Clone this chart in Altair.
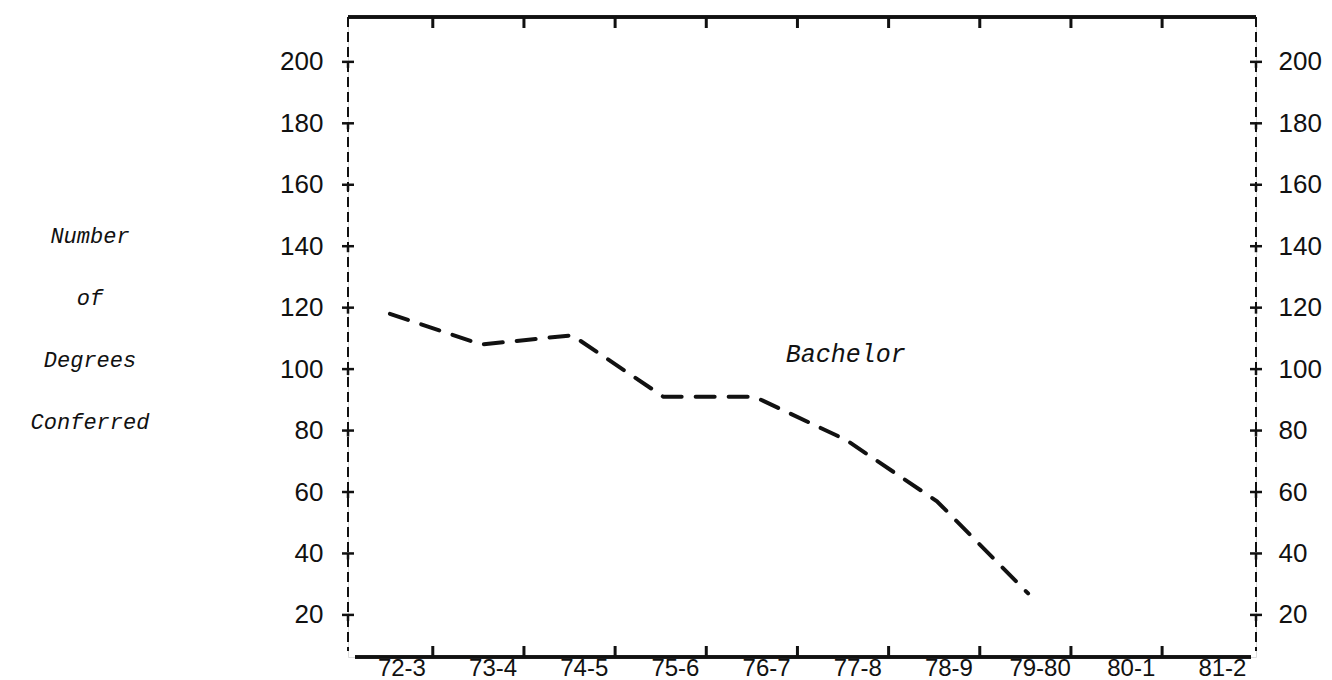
import altair as alt
import pandas as pd

# ---- data ----
years = ["72-3", "73-4", "74-5", "75-6", "76-7", "77-8", "78-9", "79-80", "80-1", "81-2"]
bachelor = [118, 108, 111, 91, 91, 77, 57, 27]
y_ticks = [20, 40, 60, 80, 100, 120, 140, 160, 180, 200]
series_label = "Bachelor"
series_label_year = "77-8"
series_label_value = 105
y_title_lines = ["Number", "of", "Degrees", "Conferred"]

# ---- tables ----
idx = {y: i for i, y in enumerate(years)}
line_df = pd.DataFrame({"x": [idx[y] for y in years[: len(bachelor)]], "v": bachelor})
year_df = pd.DataFrame({"x": list(range(len(years))), "t": years})
ytick_df = pd.DataFrame({"v": y_ticks})
xtick_df = pd.DataFrame({"x": [i + 0.47 for i in range(len(years) - 1)]})
label_df = pd.DataFrame({"x": [idx[series_label_year]], "v": [series_label_value], "t": [series_label]})

W, H = 908, 640
xs = alt.Scale(domain=[-0.46, 9.5], nice=False, zero=False)
ys = alt.Scale(domain=[6.3, 214.6], nice=False, zero=False)
INK = "#111111"
SANS = "Liberation Sans"
MONO = "Liberation Mono"

line = alt.Chart(line_df).mark_line(
    interpolate="linear", strokeDash=[19, 14], strokeWidth=4, strokeCap="round", color=INK
).encode(
    x=alt.X("x:Q", scale=xs, axis=None),
    y=alt.Y("v:Q", scale=ys, axis=alt.Axis(
        values=y_ticks, orient="left", domain=False, ticks=False, grid=False,
        title=None, labelPadding=25, labelFont=SANS, labelFontSize=26, labelColor=INK)),
)

# x category labels under the frame
x_labels = alt.Chart(year_df).mark_text(
    font=SANS, fontSize=24, color=INK, align="center", baseline="top", dx=12
).encode(x=alt.X("x:Q", scale=xs, axis=None), y=alt.value(H), text="t:N")

# right axis (labels only) on the same y scale
right_axis = alt.Chart(ytick_df).mark_rule(strokeWidth=2.5, color=INK).encode(
    x=alt.value(W - 6), x2=alt.value(W + 6),
    y=alt.Y("v:Q", scale=ys, axis=alt.Axis(
        values=y_ticks, orient="right", domain=False, ticks=False, grid=False,
        title=None, labelPadding=22, labelFont=SANS, labelFontSize=26, labelColor=INK)),
)
right_stub = alt.Chart(ytick_df).mark_rule(strokeWidth=2.5, color=INK, y2Offset=6).encode(
    x=alt.value(W), y=alt.Y("v:Q", scale=ys, axis=None), y2="v:Q")

left_cross = alt.Chart(ytick_df).mark_rule(strokeWidth=2.5, color=INK).encode(
    x=alt.value(-6), x2=alt.value(6), y=alt.Y("v:Q", scale=ys, axis=None))
left_stub = alt.Chart(ytick_df).mark_rule(strokeWidth=2.5, color=INK, y2Offset=6).encode(
    x=alt.value(0), y=alt.Y("v:Q", scale=ys, axis=None), y2="v:Q")

# frame
top_line = alt.Chart(ytick_df).mark_rule(strokeWidth=2.5, color=INK).encode(
    x=alt.value(0), x2=alt.value(W), y=alt.value(0))
bottom_line = alt.Chart(ytick_df).mark_rule(strokeWidth=2.5, color=INK).encode(
    x=alt.value(7), x2=alt.value(W - 5), y=alt.value(H))
left_dash = alt.Chart(ytick_df).mark_rule(strokeWidth=2, color=INK, strokeDash=[10, 5]).encode(
    x=alt.value(0), y=alt.value(0), y2=alt.value(H - 6))
right_dash = alt.Chart(ytick_df).mark_rule(strokeWidth=2, color=INK, strokeDash=[10, 5]).encode(
    x=alt.value(W), y=alt.value(0), y2=alt.value(H - 6))

# x ticks (between categories), top and bottom
top_ticks = alt.Chart(xtick_df).mark_rule(strokeWidth=3, color=INK).encode(
    x=alt.X("x:Q", scale=xs, axis=None), y=alt.value(0), y2=alt.value(11))
bottom_ticks = alt.Chart(xtick_df).mark_rule(strokeWidth=3, color=INK).encode(
    x=alt.X("x:Q", scale=xs, axis=None), y=alt.value(H - 11), y2=alt.value(H))

series_text = alt.Chart(label_df).mark_text(
    font=MONO, fontStyle="italic", fontSize=25, color=INK, align="center", baseline="middle"
).encode(
    x=alt.X("x:Q", scale=xs, axis=None), y=alt.Y("v:Q", scale=ys, axis=None), text="t:N")

y_title = alt.Chart(label_df).mark_text(
    font=MONO, fontStyle="italic", fontSize=22, color=INK, align="center",
    baseline="middle", lineHeight=62
).encode(x=alt.value(-258), y=alt.value(219), text=alt.value(y_title_lines))

chart = alt.layer(
    top_line, bottom_line, left_dash, right_dash, left_cross, left_stub,
    right_stub, top_ticks, bottom_ticks, line, x_labels, right_axis, series_text, y_title
).resolve_axis(y="independent").properties(
    width=W, height=H,
    autosize=alt.AutoSizeParams(type="none"),
    padding={"left": 340, "top": 9, "right": 68, "bottom": 28},
).configure_view(stroke=None).configure(background="white")

chart.save("out.html", embed_options={"renderer": "svg", "actions": False})
